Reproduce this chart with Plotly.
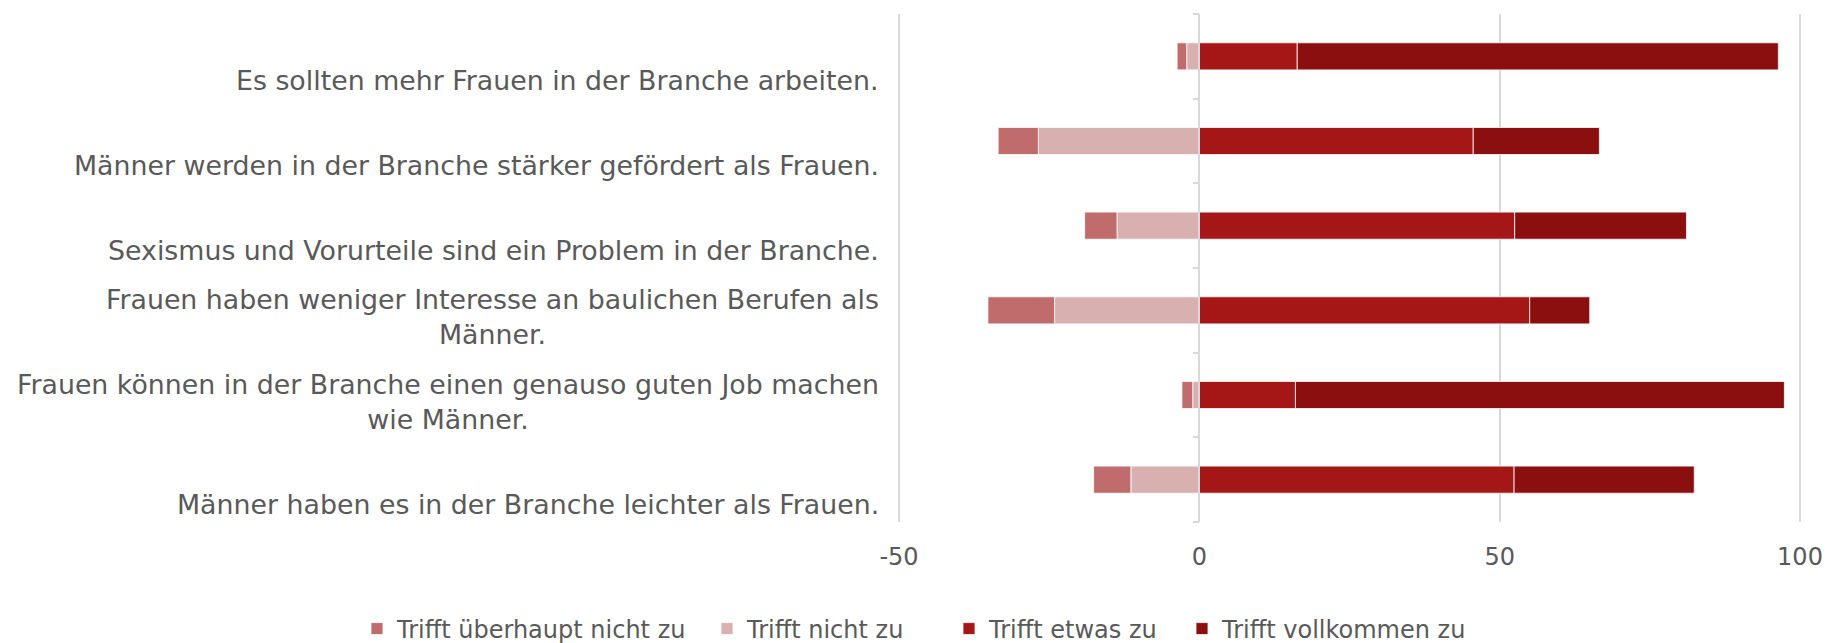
import plotly.graph_objects as go

categories = [
    "Es sollten mehr Frauen in der Branche arbeiten.",
    "Männer werden in der Branche stärker gefördert als Frauen.",
    "Sexismus und Vorurteile sind ein Problem in der Branche.",
    "Frauen haben weniger Interesse an baulichen Berufen als<br>Männer.",
    "Frauen können in der Branche einen genauso guten Job machen<br>wie Männer.",
    "Männer haben es in der Branche leichter als Frauen.",
]
series_names = ["Trifft überhaupt nicht zu", "Trifft nicht zu", "Trifft etwas zu", "Trifft vollkommen zu"]
ueberhaupt_nicht = [1.6, 6.7, 5.4, 11.1, 1.8, 6.2]
nicht = [2.1, 26.8, 13.7, 24.1, 1.1, 11.4]
etwas = [16.3, 45.6, 52.5, 55.0, 16.0, 52.4]
vollkommen = [80.1, 21.0, 28.6, 10.0, 81.4, 30.0]
x_ticks = [-50, 0, 50, 100]
x_range = [-50.5, 100.5]

colors = ["#C06C6C", "#D8B0B0", "#A51717", "#8B0F0F"]
txt = "#595959"
grid = "#D9D9D9"

W, H = 1831, 643
cat_ids = list(range(len(categories)))

fig = go.Figure()
line = dict(color="white", width=0.8)
# negative side: the series nearest to zero is stacked first
fig.add_trace(go.Bar(y=cat_ids, x=[-v for v in nicht], name=series_names[1], orientation="h",
                     marker=dict(color=colors[1], line=line), legend="legend2"))
fig.add_trace(go.Bar(y=cat_ids, x=[-v for v in ueberhaupt_nicht], name=series_names[0], orientation="h",
                     marker=dict(color=colors[0], line=line), legend="legend"))
fig.add_trace(go.Bar(y=cat_ids, x=etwas, name=series_names[2], orientation="h",
                     marker=dict(color=colors[2], line=line), legend="legend3"))
fig.add_trace(go.Bar(y=cat_ids, x=vollkommen, name=series_names[3], orientation="h",
                     marker=dict(color=colors[3], line=line), legend="legend4"))

for i, c in enumerate(categories):
    fig.add_annotation(
        x=0, xref="paper", xshift=-15, xanchor="right",
        y=i, yref="y", yanchor="bottom", yshift=-42,
        text=c, showarrow=False, align="center",
        font=dict(family="DejaVu Sans", size=26.8, color=txt),
    )

legend_font = dict(family="DejaVu Sans", size=24, color=txt)
legend_text_starts = [397, 747, 989, 1222]  # px in the figure where each legend text begins
legend_keys = ["legend", "legend2", "legend3", "legend4"]
legend_layout = {}
for key, xs in zip(legend_keys, legend_text_starts):
    legend_layout[key] = dict(
        orientation="h", xref="container", yref="container",
        x=(xs - 40) / W, xanchor="left", y=1 - 629 / H, yanchor="middle",
        font=legend_font, bgcolor="rgba(0,0,0,0)",
    )

fig.update_layout(
    width=W, height=H,
    margin=dict(l=896, r=28, t=14, b=121),
    paper_bgcolor="white", plot_bgcolor="white",
    barmode="relative", bargap=0.68,
    font=dict(family="DejaVu Sans", color=txt),
    xaxis=dict(
        range=x_range, tickvals=x_ticks, ticktext=[str(t) for t in x_ticks],
        showgrid=True, gridcolor=grid, gridwidth=1.5, zeroline=False,
        showline=False, ticks="", ticklabelstandoff=18, automargin=False,
        tickfont=dict(family="DejaVu Sans", size=24, color=txt),
    ),
    yaxis=dict(
        tickvals=cat_ids, ticktext=["" for _ in categories], autorange="reversed",
        anchor="free", position=(0 - x_range[0]) / (x_range[1] - x_range[0]),
        showline=True, linecolor=grid, linewidth=1.5,
        ticks="outside", ticklen=6, tickcolor=grid, tickwidth=1.5,
        showgrid=False, zeroline=False, showticklabels=False, automargin=False,
        type="category", tickson="boundaries",
    ),
    showlegend=True,
    **legend_layout,
)

fig.write_html("out.html", config={"displayModeBar": False},
               post_script="document.body.style.margin='0px';")
